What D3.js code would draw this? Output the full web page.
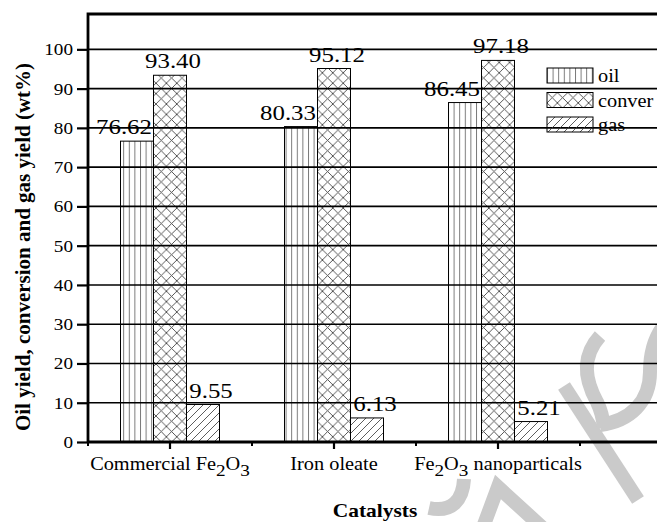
<!DOCTYPE html>
<html>
<head>
<meta charset="utf-8">
<script src="https://cdn.jsdelivr.net/npm/d3@7"></script>
<style>
  body { margin: 0; background: #fff; }
  text { font-family: "Liberation Serif", "Times New Roman", serif; fill: #000; }
</style>
</head>
<body>
<div id="chart"></div>
<script>

const categories = ["Commercial Fe2O3", "Iron oleate", "Fe2O3 nanoparticals"];
const seriesNames = ["oil", "conver", "gas"];
const oilValues = [76.62, 80.33, 86.45];
const converValues = [93.40, 95.12, 97.18];
const gasValues = [9.55, 6.13, 5.21];
const yTickValues = [0, 10, 20, 30, 40, 50, 60, 70, 80, 90, 100];

const width = 657, height = 522;
const plot = {left: 88, right: 657, top: 14, bottom: 442};
const stretch = 1.13;   // the source glyphs are a bit wide

// label nudges per series, the original labels are not centred
const labelDx = {oil: -13, conver: 3, gas: 8};

const x = d3.scaleBand()
  .domain(categories)
  .range([plot.left, 580]);

const inner = d3.scaleBand()
  .domain(seriesNames)
  .range([-49.5, 49.5]);

const y = d3.scaleLinear()
  .domain([0, 109])
  .range([plot.bottom, plot.top]);

const valuesBy = {oil: oilValues, conver: converValues, gas: gasValues};

const data = [];
categories.forEach(function(c, i) {
  seriesNames.forEach(function(s) {
    data.push({category: c, series: s, value: valuesBy[s][i]});
  });
});

const svg = d3.select("#chart").append("svg")
  .attr("width", width)
  .attr("height", height);

// hatch patterns
const defs = svg.append("defs");

var p = defs.append("pattern").attr("id", "pat-oil")
  .attr("patternUnits", "userSpaceOnUse").attr("width", 5.6).attr("height", 10);
p.append("line").attr("x1", 0.5).attr("x2", 0.5).attr("y1", 0).attr("y2", 10)
  .attr("stroke", "#555").attr("stroke-width", 0.8);

p = defs.append("pattern").attr("id", "pat-conver")
  .attr("patternUnits", "userSpaceOnUse").attr("width", 10.4).attr("height", 10.4);
p.append("path").attr("d", "M0,0L10.4,10.4M0,10.4L10.4,0")
  .attr("stroke", "#444").attr("stroke-width", 0.9);

p = defs.append("pattern").attr("id", "pat-gas")
  .attr("patternUnits", "userSpaceOnUse").attr("width", 8).attr("height", 8);
p.append("path").attr("d", "M0,8L8,0M-2,2L2,-2M6,10L10,6")
  .attr("stroke", "#333").attr("stroke-width", 0.8);

// faint watermark strokes in the lower right corner
const mark = svg.append("g")
  .attr("fill", "none")
  .attr("stroke", "#cacaca")
  .attr("stroke-width", 14);
mark.append("path").attr("d", "M564,386L638,500");
mark.append("path").attr("d", "M600,336C580,358 586,382 597,402C601,410 603,418 604,428");
mark.append("path").attr("d", "M600,425C630,421 650,402 650,372C650,352 655,338 662,328");
mark.append("path").attr("d", "M464,479C463,500 452,513 429,508");
mark.append("path").attr("d", "M482,530L498,487L545,530").attr("stroke-linejoin", "miter");

// bars
svg.append("g").selectAll("rect")
  .data(data)
  .join("rect")
    .attr("x", function(d) { return x(d.category) + x.bandwidth() / 2 + inner(d.series); })
    .attr("y", function(d) { return y(d.value); })
    .attr("width", inner.bandwidth())
    .attr("height", function(d) { return y(0) - y(d.value); })
    .attr("fill", function(d) { return "url(#pat-" + d.series + ")"; })
    .attr("stroke", "#000")
    .attr("stroke-width", 1);

// value labels
svg.append("g").selectAll("text")
  .data(data)
  .join("text")
    .attr("transform", function(d) {
      const cx = x(d.category) + x.bandwidth() / 2 + inner(d.series) + inner.bandwidth() / 2 + labelDx[d.series];
      return "translate(" + cx + "," + (y(d.value) - 7) + ") scale(" + stretch + ",1)";
    })
    .attr("text-anchor", "middle")
    .style("font-size", "22px")
    .text(function(d) { return d.value.toFixed(2); });

// y axis
const yAxis = d3.axisLeft(y)
  .tickValues(yTickValues)
  .tickSize(11)
  .tickPadding(3);

const gy = svg.append("g")
  .attr("transform", "translate(" + plot.left + ",0)")
  .call(yAxis);
gy.select(".domain").remove();
gy.selectAll(".tick line").attr("stroke", "#000").attr("stroke-width", 2.2);
gy.selectAll(".tick text")
  .attr("x", -15 / stretch)
  .attr("transform", "scale(" + stretch + ",1)")
  .style("font-size", "17px")
  .attr("font-family", null);

// x axis: major ticks at the categories, minor ticks between
const xAxis = d3.axisBottom(x)
  .tickSize(7)
  .tickFormat("");

const gx = svg.append("g")
  .attr("transform", "translate(0," + plot.bottom + ")")
  .call(xAxis);
gx.select(".domain").remove();
gx.selectAll(".tick line").attr("stroke", "#000").attr("stroke-width", 2.2);

const minorX = categories.map(function(c) { return x(c); }).concat([x.range()[1]]);
gx.selectAll(".minor")
  .data(minorX)
  .join("line")
    .attr("class", "minor")
    .attr("x1", function(d) { return d; })
    .attr("x2", function(d) { return d; })
    .attr("y1", 0)
    .attr("y2", 4)
    .attr("stroke", "#000")
    .attr("stroke-width", 2);

// category labels with subscripts in the formulas
const catLabels = svg.append("g").selectAll("text")
  .data(categories)
  .join("text")
    .attr("transform", function(d) {
      return "translate(" + (x(d) + x.bandwidth() / 2) + ",470) scale(" + stretch + ",1)";
    })
    .attr("text-anchor", "middle")
    .style("font-size", "18px");

catLabels.each(function(d) {
  const t = d3.select(this);
  var shifted = false;
  d.split(/(\d)/).forEach(function(part) {
    if (part === "") return;
    if (/^\d$/.test(part)) {
      t.append("tspan").attr("dy", 6).style("font-size", "17px").text(part);
      shifted = true;
    } else {
      t.append("tspan").attr("dy", shifted ? -6 : 0).text(part);
      shifted = false;
    }
  });
});

// gridlines go over the bars, like the source
svg.append("g").selectAll("line")
  .data(yTickValues.filter(function(v) { return v > 0; }))
  .join("line")
    .attr("x1", plot.left)
    .attr("x2", plot.right)
    .attr("y1", function(d) { return y(d); })
    .attr("y2", function(d) { return y(d); })
    .attr("stroke", "#000")
    .attr("stroke-width", 1.6);

// frame: left, top and bottom
svg.append("path")
  .attr("d", "M" + plot.left + "," + plot.bottom + "V" + plot.top + "H" + plot.right
    + "M" + plot.left + "," + plot.bottom + "H" + plot.right)
  .attr("fill", "none")
  .attr("stroke", "#000")
  .attr("stroke-width", 2.8);

// legend
const legend = svg.append("g").attr("transform", "translate(547,68)");
seriesNames.forEach(function(s, i) {
  const row = legend.append("g").attr("transform", "translate(0," + (i * 24.5) + ")");
  row.append("rect")
    .attr("width", 46)
    .attr("height", 15)
    .attr("fill", "url(#pat-" + s + ")")
    .attr("stroke", "#000")
    .attr("stroke-width", 1);
  row.append("text")
    .attr("transform", "translate(51,14) scale(" + stretch + ",1)")
    .style("font-size", "18px")
    .text(s);
});

// axis titles
svg.append("text")
  .attr("transform", "translate(30,247) rotate(-90)")
  .attr("text-anchor", "middle")
  .style("font-size", "21px")
  .style("font-weight", "bold")
  .text("Oil yield, conversion and gas yield (wt%)");

svg.append("text")
  .attr("transform", "translate(375,517) scale(" + stretch + ",1)")
  .attr("text-anchor", "middle")
  .style("font-size", "19px")
  .style("font-weight", "bold")
  .text("Catalysts");

</script>
</body>
</html>
